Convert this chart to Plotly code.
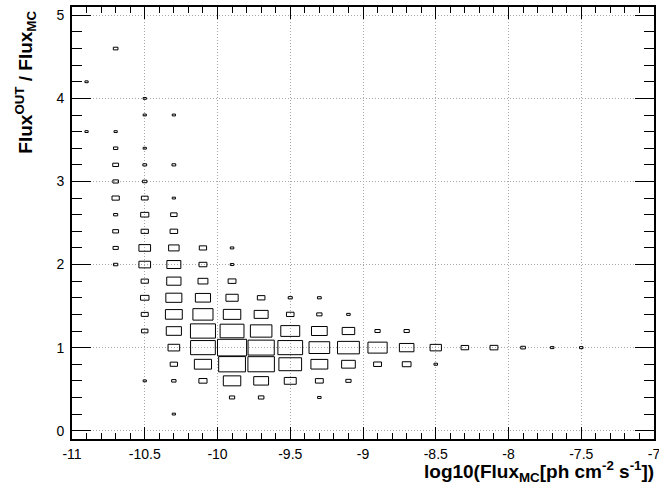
import plotly.graph_objects as go

# 2D histogram (ROOT "BOX" style): bin centres and contents (relative, max = 100)
bin_x = (
    [-10.9] * 2
    + [-10.7] * 10
    + [-10.5] * 15
    + [-10.3] * 15
    + [-10.1] * 9
    + [-9.9] * 10
    + [-9.7] * 7
    + [-9.5] * 6
    + [-9.3] * 7
    + [-9.1] * 5
    + [-8.9] * 3
    + [-8.7] * 3
    + [-8.5] * 2
    + [-8.3, -8.1, -7.9, -7.7, -7.5]
)
bin_y = (
    [4.2, 3.6]
    + [4.6, 3.6, 3.4, 3.2, 3.0, 2.8, 2.6, 2.4, 2.2, 2.0]
    + [4.0, 3.8, 3.4, 3.2, 3.0, 2.8, 2.6, 2.4, 2.2, 2.0, 1.8, 1.6, 1.4, 1.2, 0.6]
    + [3.8, 3.2, 2.8, 2.6, 2.4, 2.2, 2.0, 1.8, 1.6, 1.4, 1.2, 1.0, 0.8, 0.6, 0.2]
    + [2.2, 2.0, 1.8, 1.6, 1.4, 1.2, 1.0, 0.8, 0.6]
    + [2.2, 2.0, 1.8, 1.6, 1.4, 1.2, 1.0, 0.8, 0.6, 0.4]
    + [1.6, 1.4, 1.2, 1.0, 0.8, 0.6, 0.4]
    + [1.6, 1.4, 1.2, 1.0, 0.8, 0.6]
    + [1.6, 1.4, 1.2, 1.0, 0.8, 0.6, 0.4]
    + [1.4, 1.2, 1.0, 0.8, 0.6]
    + [1.2, 1.0, 0.8]
    + [1.2, 1.0, 0.8]
    + [1.0, 0.8]
    + [1.0, 1.0, 1.0, 1.0, 1.0]
)
bin_content = (
    [11, 11]
    + [16, 11, 15, 20, 19, 25, 14, 20, 18, 15]
    + [11, 11, 11, 13, 15, 23, 28, 25, 40, 40, 25, 29, 24, 22, 11]
    + [11, 13, 11, 22, 26, 36, 48, 49, 55, 58, 52, 40, 25, 15, 11]
    + [25, 27, 34, 52, 69, 86, 85, 59, 28]
    + [12, 12, 27, 42, 60, 82, 100, 92, 60, 18]
    + [26, 48, 74, 90, 91, 51, 19]
    + [14, 26, 65, 85, 78, 41]
    + [13, 18, 54, 71, 58, 27, 12]
    + [12, 43, 75, 47, 18]
    + [18, 66, 27]
    + [18, 50, 30]
    + [39, 12]
    + [26, 27, 16, 12, 12]
)

bin_w = 0.2
bin_h = 0.2
x_range = [-11, -7]
y_range = [-0.1, 5.1]
x_ticks = [-11, -10.5, -10, -9.5, -9, -8.5, -8, -7.5, -7]
x_ticklabels = ["-11", "-10.5", "-10", "-9.5", "-9", "-8.5", "-8", "-7.5", "-7"]
y_ticks = [0, 1, 2, 3, 4, 5]
x_title = "<b>log10(Flux<sub>MC</sub>[ph cm<sup>-2</sup> s<sup>-1</sup>])</b>"
y_title = "<b>Flux<sup>OUT</sup> / Flux<sub>MC</sub></b>"

cmax = max(bin_content)
xs, ys = [], []
for cx, cy, c in zip(bin_x, bin_y, bin_content):
    hw = 0.5 * bin_w * c / cmax
    hh = 0.5 * bin_h * c / cmax
    xs += [cx - hw, cx + hw, cx + hw, cx - hw, cx - hw, None]
    ys += [cy - hh, cy - hh, cy + hh, cy + hh, cy - hh, None]

fig = go.Figure()
fig.add_trace(go.Scatter(x=xs, y=ys, mode="lines",
                         line=dict(color="black", width=1),
                         hoverinfo="skip", showlegend=False))

font_family = "Liberation Sans, Arial, Helvetica, sans-serif"
grid_col = "#a8a8a8"

fig.update_layout(
    template="none",
    width=659, height=487,
    margin=dict(l=72, r=5, t=7, b=48),
    paper_bgcolor="white", plot_bgcolor="white",
    font=dict(family=font_family, size=14, color="black"),
    xaxis=dict(
        range=x_range, tickmode="array", tickvals=x_ticks, ticktext=x_ticklabels,
        automargin=False, ticklabeloverflow="allow", layer="above traces",
        ticks="inside", ticklen=12, tickwidth=1, tickcolor="black",
        showline=True, linecolor="black", linewidth=2, mirror="allticks",
        showgrid=True, gridcolor=grid_col, griddash="1px,2px", gridwidth=1,
        zeroline=False, tickfont=dict(size=14), ticklabelstandoff=1,
        minor=dict(tickmode="linear", tick0=-11, dtick=0.1, ticks="inside",
                   ticklen=6, tickcolor="black", tickwidth=1, showgrid=False),
    ),
    yaxis=dict(
        range=y_range, tickmode="array", tickvals=y_ticks,
        automargin=False, ticklabeloverflow="allow", layer="above traces",
        ticks="inside", ticklen=19, tickwidth=1, tickcolor="black",
        showline=True, linecolor="black", linewidth=2, mirror="allticks",
        showgrid=True, gridcolor=grid_col, griddash="1px,2px", gridwidth=1,
        zeroline=False, tickfont=dict(size=14), ticklabelstandoff=3,
        minor=dict(tickmode="linear", tick0=0, dtick=0.2, ticks="inside",
                   ticklen=10, tickcolor="black", tickwidth=1, showgrid=False),
    ),
    annotations=[
        dict(text=x_title,
             xref="paper", yref="paper", x=1.004, y=-0.112,
             xanchor="right", yanchor="bottom", showarrow=False,
             font=dict(size=19, family=font_family)),
        dict(text=y_title,
             xref="paper", yref="paper", x=-0.079, y=0.995,
             xanchor="center", yanchor="top", textangle=-90, showarrow=False,
             font=dict(size=19, family=font_family)),
    ],
)

# remove the default 8px page margin so the figure sits at the window origin
fig.write_html("out.html", config={"displayModeBar": False},
               post_script="document.body.style.margin='0';")
